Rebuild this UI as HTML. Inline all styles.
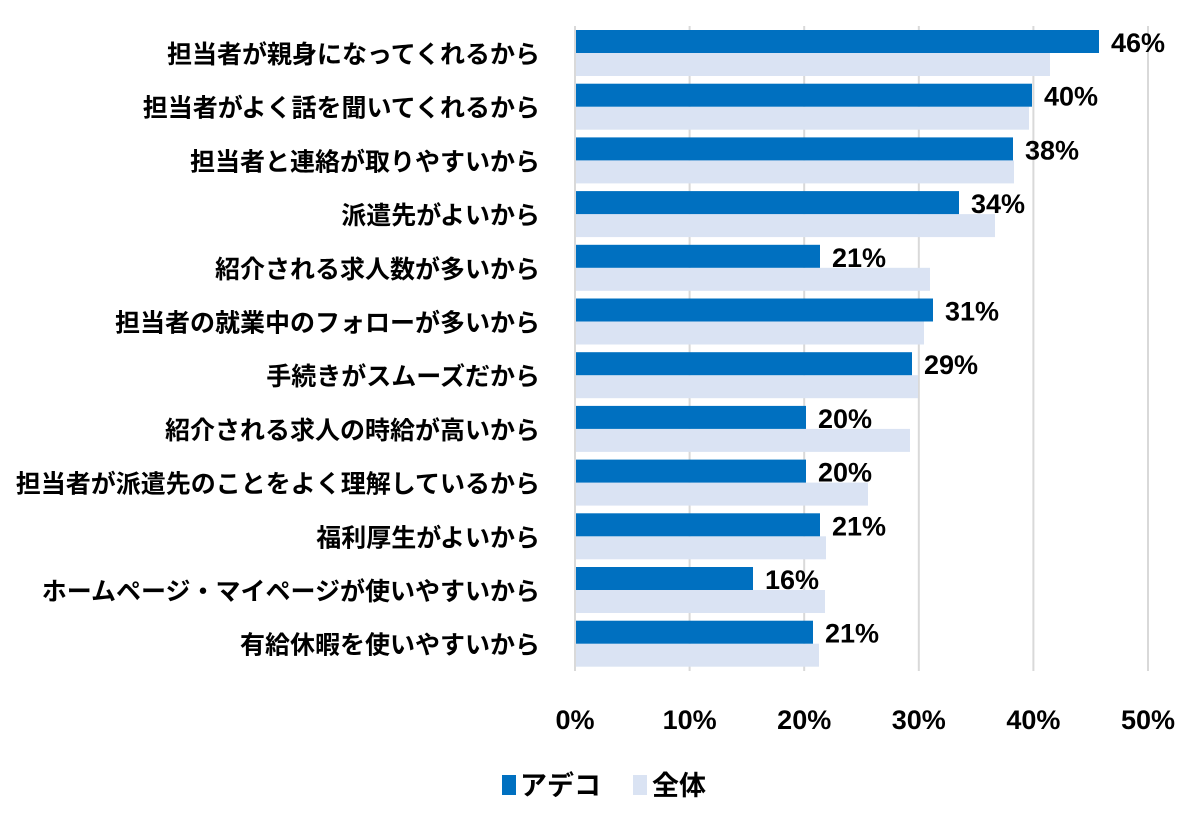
<!DOCTYPE html>
<html><head><meta charset="utf-8"><style>
body{margin:0;background:#fff;}
svg text{font-family:"Liberation Sans","Noto Sans CJK JP",sans-serif;font-weight:bold;fill:#000;}
</style></head><body>
<svg width="1200" height="829" viewBox="0 0 1200 829" xmlns="http://www.w3.org/2000/svg">
<g stroke="#d9d9d9" stroke-width="2">
<line x1="689.6" y1="26" x2="689.6" y2="671"/>
<line x1="804.2" y1="26" x2="804.2" y2="671"/>
<line x1="918.8" y1="26" x2="918.8" y2="671"/>
<line x1="1033.4" y1="26" x2="1033.4" y2="671"/>
<line x1="1148" y1="26" x2="1148" y2="671"/>
<line x1="575" y1="26" x2="575" y2="671"/>
</g>
<g fill="#dae3f3">
<rect x="576" y="53" width="474" height="23"/>
<rect x="576" y="106.7" width="453" height="23"/>
<rect x="576" y="160.4" width="438" height="23"/>
<rect x="576" y="214.1" width="419" height="23"/>
<rect x="576" y="267.8" width="354" height="23"/>
<rect x="576" y="321.5" width="348" height="23"/>
<rect x="576" y="375.2" width="342" height="23"/>
<rect x="576" y="428.9" width="334" height="23"/>
<rect x="576" y="482.6" width="292" height="23"/>
<rect x="576" y="536.3" width="250" height="23"/>
<rect x="576" y="590" width="249" height="23"/>
<rect x="576" y="643.7" width="243" height="23"/>
</g>
<g fill="#0070c0">
<rect x="576" y="30" width="523" height="23"/>
<rect x="576" y="83.7" width="456" height="23"/>
<rect x="576" y="137.4" width="437" height="23"/>
<rect x="576" y="191.1" width="383" height="23"/>
<rect x="576" y="244.8" width="244" height="23"/>
<rect x="576" y="298.5" width="357" height="23"/>
<rect x="576" y="352.2" width="336" height="23"/>
<rect x="576" y="405.9" width="230" height="23"/>
<rect x="576" y="459.6" width="230" height="23"/>
<rect x="576" y="513.3" width="244" height="23"/>
<rect x="576" y="567" width="177" height="23"/>
<rect x="576" y="620.7" width="237" height="23"/>
</g>
<g font-size="27">
<text x="1111" y="52">46%</text>
<text x="1044" y="105.7">40%</text>
<text x="1025" y="159.4">38%</text>
<text x="971" y="213.1">34%</text>
<text x="832" y="266.8">21%</text>
<text x="945" y="320.5">31%</text>
<text x="924" y="374.2">29%</text>
<text x="818" y="427.9">20%</text>
<text x="818" y="481.6">20%</text>
<text x="832" y="535.3">21%</text>
<text x="765" y="589">16%</text>
<text x="825" y="642.7">21%</text>
</g>
<g font-size="25" text-anchor="end">
<text x="540" y="63">担当者が親身になってくれるから</text>
<text x="540" y="116.7">担当者がよく話を聞いてくれるから</text>
<text x="540" y="170.4">担当者と連絡が取りやすいから</text>
<text x="540" y="224.1">派遣先がよいから</text>
<text x="540" y="277.8">紹介される求人数が多いから</text>
<text x="540" y="331.5">担当者の就業中のフォローが多いから</text>
<text x="540" y="385.2">手続きがスムーズだから</text>
<text x="540" y="438.9">紹介される求人の時給が高いから</text>
<text x="540" y="492.6">担当者が派遣先のことをよく理解しているから</text>
<text x="540" y="546.3">福利厚生がよいから</text>
<text x="540" y="600">ホームページ・マイページが使いやすいから</text>
<text x="540" y="653.7">有給休暇を使いやすいから</text>
</g>
<g font-size="27" text-anchor="middle">
<text x="575" y="729">0%</text><text x="689.6" y="729">10%</text><text x="804.2" y="729">20%</text><text x="918.8" y="729">30%</text><text x="1033.4" y="729">40%</text><text x="1148" y="729">50%</text>
</g>
<rect x="502" y="775" width="14" height="20" fill="#0070c0"/>
<text x="520" y="795" font-size="27">アデコ</text>
<rect x="633" y="775" width="14" height="20" fill="#dae3f3"/>
<text x="652" y="795" font-size="27">全体</text>
</svg>
</body></html>
